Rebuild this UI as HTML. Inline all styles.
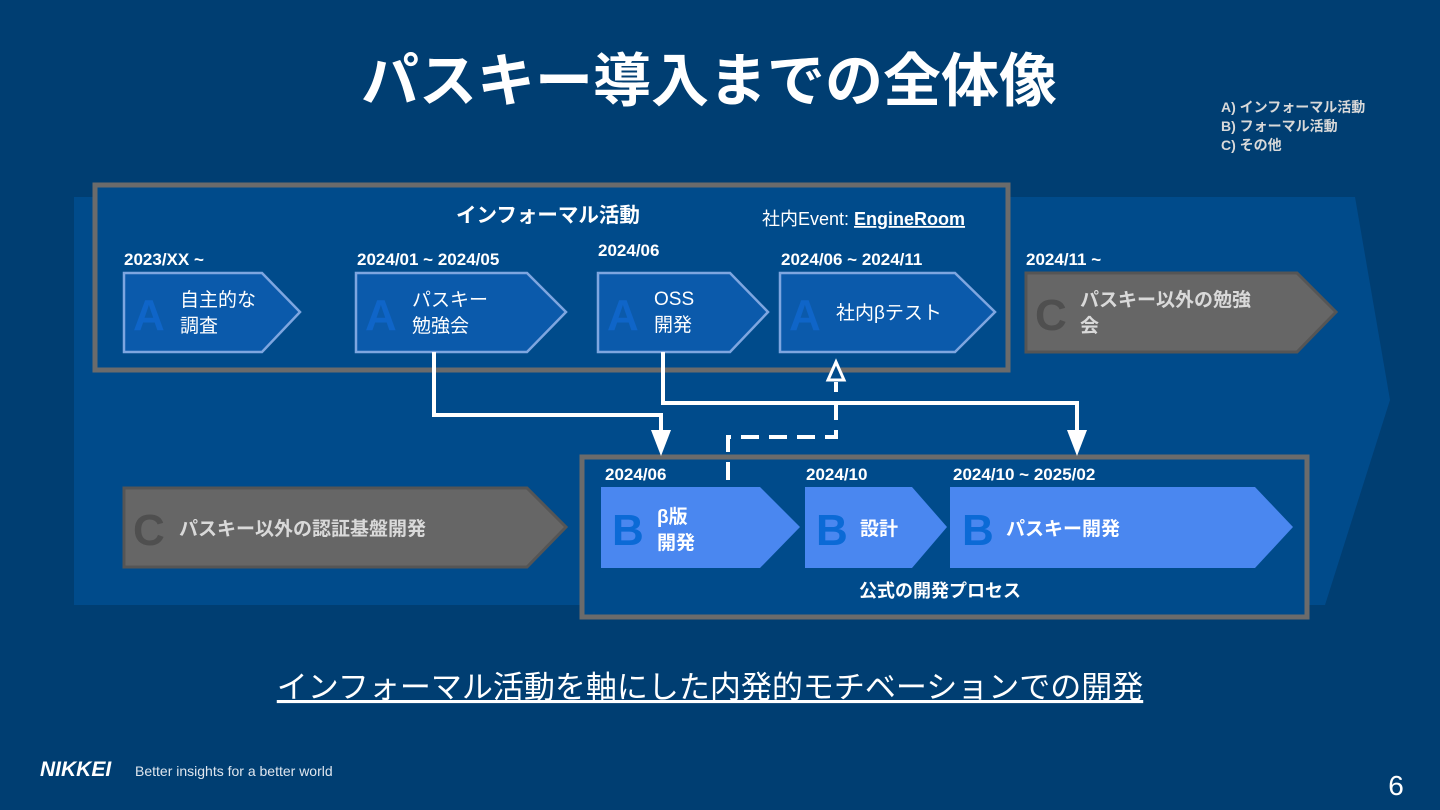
<!DOCTYPE html>
<html><head><meta charset="utf-8"><style>
body{margin:0;background:#003e72;}
svg{display:block;font-family:"Liberation Sans","Noto Sans CJK JP",sans-serif;}
</style></head><body>
<svg width="1440" height="810" viewBox="0 0 1440 810">
<rect width="1440" height="810" fill="#003e72"/>
<polygon points="74,197 1355,197 1390,400 1325,605 74,605" fill="#004b8b"/>
<text x="709" y="101" text-anchor="middle" font-size="58" font-weight="bold" fill="#fff">パスキー導入までの全体像</text>
<g font-size="14" font-weight="bold" fill="#d9d9d9">
<text x="1221" y="112">A) インフォーマル活動</text>
<text x="1221" y="131">B) フォーマル活動</text>
<text x="1221" y="150">C) その他</text>
</g>
<rect x="95" y="185" width="913" height="185" fill="#004b8b" stroke="#6b6b6b" stroke-width="5"/>
<rect x="582" y="457" width="725" height="160" fill="#004b8b" stroke="#6b6b6b" stroke-width="5"/>
<text x="548" y="222" text-anchor="middle" font-size="20.5" font-weight="bold" fill="#fff">インフォーマル活動</text>
<text x="762" y="225" font-size="18" fill="#fff">社内Event: <tspan font-weight="bold" text-decoration="underline">EngineRoom</tspan></text>
<g font-size="17" font-weight="bold" fill="#fff">
<text x="124" y="265">2023/XX ~</text>
<text x="357" y="265">2024/01 ~ 2024/05</text>
<text x="598" y="256">2024/06</text>
<text x="781" y="265">2024/06 ~ 2024/11</text>
<text x="1026" y="265">2024/11 ~</text>
<text x="605" y="480">2024/06</text>
<text x="806" y="480">2024/10</text>
<text x="953" y="480">2024/10 ~ 2025/02</text>
</g>
<g fill="#0b5aab" stroke="#7ea6e0" stroke-width="2.5">
<polygon points="124,273 262,273 300,312 262,352 124,352"/>
<polygon points="356,273 527,273 566,312 527,352 356,352"/>
<polygon points="598,273 730,273 768,312 730,352 598,352"/>
<polygon points="780,273 955,273 995,312 955,352 780,352"/>
</g>
<g fill="#666" stroke="#555" stroke-width="3">
<polygon points="1026,273 1297,273 1336,312 1297,352 1026,352"/>
<polygon points="124,488 527,488 566,527 527,567 124,567"/>
</g>
<g fill="#4a87f0">
<polygon points="601,487 760,487 800,527 760,568 601,568"/>
<polygon points="805,487 912,487 947,527 912,568 805,568"/>
<polygon points="950,487 1255,487 1293,527 1255,568 950,568"/>
</g>
<g font-size="44" font-weight="bold" fill="#0f65c8">
<text x="133" y="330">A</text><text x="365" y="330">A</text><text x="607" y="330">A</text><text x="789" y="330">A</text>
</g>
<g font-size="44" font-weight="bold" fill="#0b6ad6">
<text x="612" y="545">B</text><text x="816" y="545">B</text><text x="962" y="545">B</text>
</g>
<g font-size="44" font-weight="bold" fill="#4f4f4f">
<text x="1035" y="330">C</text><text x="133" y="545">C</text>
</g>
<g font-size="19" fill="#fff">
<text x="180" y="306">自主的な</text><text x="180" y="332">調査</text>
<text x="412" y="306">パスキー</text><text x="412" y="332">勉強会</text>
<text x="654" y="305">OSS</text><text x="654" y="331">開発</text>
<text x="836" y="319">社内βテスト</text>
</g>
<g font-size="19" font-weight="bold" fill="#fff">
<text x="657" y="523">β版</text><text x="657" y="549">開発</text>
<text x="860" y="535">設計</text>
<text x="1006" y="535">パスキー開発</text>
<text x="940" y="597" text-anchor="middle" font-size="18">公式の開発プロセス</text>
</g>
<g font-size="19" font-weight="bold" fill="#d9d9d9">
<text x="1080" y="306">パスキー以外の勉強</text><text x="1080" y="332">会</text>
<text x="179" y="535">パスキー以外の認証基盤開発</text>
</g>
<g stroke="#fff" stroke-width="4" fill="none">
<polyline points="434,352 434,415 661,415 661,432"/>
<polyline points="663,352 663,403 1077,403 1077,432"/>
<polyline points="728,480 728,437 836,437 836,382" stroke-dasharray="18,10"/>
</g>
<g fill="#fff">
<polygon points="651,430 671,430 661,456"/>
<polygon points="1067,430 1087,430 1077,456"/>
</g>
<polygon points="836,362 828,380 844,380" fill="#004b8b" stroke="#fff" stroke-width="3"/>
<text x="710" y="698" text-anchor="middle" font-size="31" fill="#fff" text-decoration="underline">インフォーマル活動を軸にした内発的モチベーションでの開発</text>
<text x="40" y="776" font-size="21" font-weight="bold" font-style="italic" fill="#fff">NIKKEI</text>
<text x="135" y="776" font-size="14" fill="#dfe6ee">Better insights for a better world</text>
<text x="1396" y="795" text-anchor="middle" font-size="28" fill="#fff">6</text>
</svg>
</body></html>
